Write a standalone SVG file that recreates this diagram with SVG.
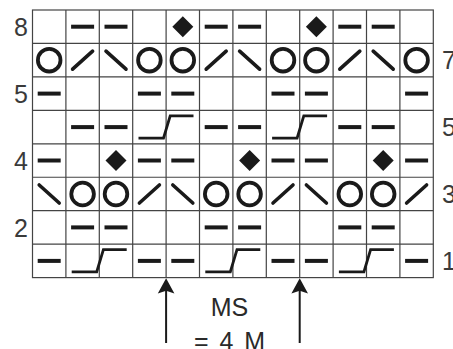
<svg xmlns="http://www.w3.org/2000/svg" xmlns:xlink="http://www.w3.org/1999/xlink" width="453" height="349" viewBox="0 0 453 349">
<style>
.grid{stroke:#444;stroke-width:1.2;fill:none}
.lbl{font-family:"Liberation Sans",Arial,sans-serif;font-size:25px;fill:#3a3a3a}
.ms{font-family:"Liberation Sans",Arial,sans-serif;font-size:25px;fill:#2a2a2a;text-anchor:middle}
.sym{fill:#1a1a1a}
.str{stroke:#1a1a1a;fill:none}
.arrow{stroke:#1a1a1a;stroke-width:2}
.head{fill:#1a1a1a}
</style>
<defs>
<rect id="d" class="sym" x="-11.5" y="-2" width="23" height="4"/>
<polygon id="k" class="sym" points="0,-10.5 10.5,0 0,10.5 -10.5,0"/>
<circle id="o" class="str" r="11.3" stroke-width="3.8"/>
<line id="s" class="str" x1="-10" y1="9" x2="10" y2="-9" stroke-width="3.6" stroke-linecap="round"/>
<line id="b" class="str" x1="-10" y1="-9" x2="10" y2="9" stroke-width="3.6" stroke-linecap="round"/>
<path id="c" class="str" d="M-10.9,11 H14.1 L20.8,-11.2 H44.1" stroke-width="2.8"/>
<path id="ah" class="head" d="M0,0 L8.3,15.2 L0,12.4 L-8.3,15.2 Z"/>
</defs>
<g id="grid">
<rect class="grid" x="32.5" y="10" width="400.8" height="267.6"/>
<path class="grid" d="M65.9,10V277.6M99.3,10V277.6M132.7,10V277.6M166.1,10V277.6M199.5,10V277.6M232.9,10V277.6M266.3,10V277.6M299.7,10V277.6M333.1,10V277.6M366.5,10V277.6M399.9,10V277.6M32.5,43.45H433.3M32.5,76.9H433.3M32.5,110.35H433.3M32.5,143.8H433.3M32.5,177.25H433.3M32.5,210.7H433.3M32.5,244.15H433.3"/>
</g>
<g id="row-labels">
<text class="lbl" x="28" y="36" text-anchor="end">8</text>
<text class="lbl" x="28" y="102.5" text-anchor="end">5</text>
<text class="lbl" x="28" y="169.5" text-anchor="end">4</text>
<text class="lbl" x="28" y="236.5" text-anchor="end">2</text>
<text class="lbl" x="442" y="69">7</text>
<text class="lbl" x="442" y="136">5</text>
<text class="lbl" x="442" y="203">3</text>
<text class="lbl" x="442" y="270">1</text>
</g>
<g id="row8">
<use xlink:href="#d" x="82.6" y="26.7"/><use xlink:href="#d" x="116" y="26.7"/>
<use xlink:href="#k" x="182.8" y="26.7"/><use xlink:href="#d" x="216.2" y="26.7"/><use xlink:href="#d" x="249.6" y="26.7"/>
<use xlink:href="#k" x="316.4" y="26.7"/><use xlink:href="#d" x="349.8" y="26.7"/><use xlink:href="#d" x="383.2" y="26.7"/>
</g>
<g id="row7">
<use xlink:href="#o" x="49.2" y="60.2"/><use xlink:href="#s" x="82.6" y="60.2"/><use xlink:href="#b" x="116" y="60.2"/>
<use xlink:href="#o" x="149.4" y="60.2"/><use xlink:href="#o" x="182.8" y="60.2"/><use xlink:href="#s" x="216.2" y="60.2"/>
<use xlink:href="#b" x="249.6" y="60.2"/><use xlink:href="#o" x="283" y="60.2"/><use xlink:href="#o" x="316.4" y="60.2"/>
<use xlink:href="#s" x="349.8" y="60.2"/><use xlink:href="#b" x="383.2" y="60.2"/><use xlink:href="#o" x="416.6" y="60.2"/>
</g>
<g id="row6">
<use xlink:href="#d" x="49.2" y="93.6"/><use xlink:href="#d" x="149.4" y="93.6"/><use xlink:href="#d" x="182.8" y="93.6"/>
<use xlink:href="#d" x="283" y="93.6"/><use xlink:href="#d" x="316.4" y="93.6"/><use xlink:href="#d" x="416.6" y="93.6"/>
</g>
<g id="row5">
<use xlink:href="#d" x="82.6" y="127.1"/><use xlink:href="#d" x="116" y="127.1"/>
<use xlink:href="#c" x="149.4" y="127.1"/>
<use xlink:href="#d" x="216.2" y="127.1"/><use xlink:href="#d" x="249.6" y="127.1"/>
<use xlink:href="#c" x="283" y="127.1"/>
<use xlink:href="#d" x="349.8" y="127.1"/><use xlink:href="#d" x="383.2" y="127.1"/>
</g>
<g id="row4">
<use xlink:href="#d" x="49.2" y="160.5"/><use xlink:href="#k" x="116" y="160.5"/><use xlink:href="#d" x="149.4" y="160.5"/>
<use xlink:href="#d" x="182.8" y="160.5"/><use xlink:href="#k" x="249.6" y="160.5"/><use xlink:href="#d" x="283" y="160.5"/>
<use xlink:href="#d" x="316.4" y="160.5"/><use xlink:href="#k" x="383.2" y="160.5"/><use xlink:href="#d" x="416.6" y="160.5"/>
</g>
<g id="row3">
<use xlink:href="#b" x="49.2" y="194"/><use xlink:href="#o" x="82.6" y="194"/><use xlink:href="#o" x="116" y="194"/>
<use xlink:href="#s" x="149.4" y="194"/><use xlink:href="#b" x="182.8" y="194"/><use xlink:href="#o" x="216.2" y="194"/>
<use xlink:href="#o" x="249.6" y="194"/><use xlink:href="#s" x="283" y="194"/><use xlink:href="#b" x="316.4" y="194"/>
<use xlink:href="#o" x="349.8" y="194"/><use xlink:href="#o" x="383.2" y="194"/><use xlink:href="#s" x="416.6" y="194"/>
</g>
<g id="row2">
<use xlink:href="#d" x="82.6" y="227.4"/><use xlink:href="#d" x="116" y="227.4"/>
<use xlink:href="#d" x="216.2" y="227.4"/><use xlink:href="#d" x="249.6" y="227.4"/>
<use xlink:href="#d" x="349.8" y="227.4"/><use xlink:href="#d" x="383.2" y="227.4"/>
</g>
<g id="row1">
<use xlink:href="#d" x="49.2" y="260.9"/><use xlink:href="#c" x="82.6" y="260.9"/>
<use xlink:href="#d" x="149.4" y="260.9"/><use xlink:href="#d" x="182.8" y="260.9"/>
<use xlink:href="#c" x="216.2" y="260.9"/>
<use xlink:href="#d" x="283" y="260.9"/><use xlink:href="#d" x="316.4" y="260.9"/>
<use xlink:href="#c" x="349.8" y="260.9"/>
<use xlink:href="#d" x="416.6" y="260.9"/>
</g>
<g id="connectors">
<line class="arrow" x1="166.1" y1="343" x2="166.1" y2="288"/>
<use xlink:href="#ah" x="166.1" y="278.3"/>
<line class="arrow" x1="299.7" y1="343" x2="299.7" y2="288"/>
<use xlink:href="#ah" x="299.7" y="278.3"/>
</g>
<g id="label">
<text class="ms" x="229.5" y="316">MS</text>
<text class="ms" x="229.5" y="349.5" word-spacing="4">= 4 M</text>
</g>
</svg>
